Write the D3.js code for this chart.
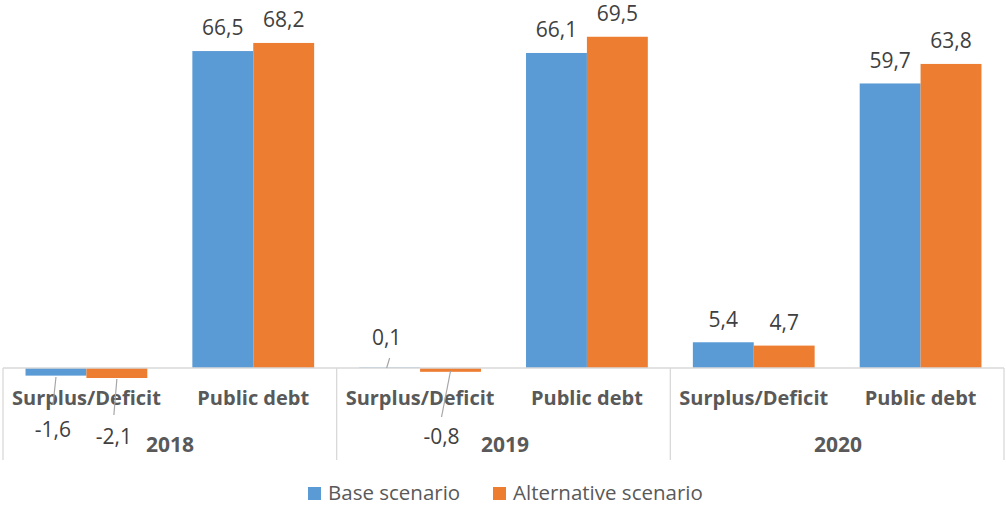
<!DOCTYPE html>
<html>
<head>
<meta charset="utf-8">
<script src="https://cdn.jsdelivr.net/npm/d3@7"></script>
<style>
  body { margin: 0; background: #fff; }
  svg { font-family: "Open Sans", "Noto Sans", sans-serif; }
</style>
</head>
<body>
<svg id="chart" width="1006" height="506"></svg>
<script>
const years = ["2018", "2019", "2020"];
const indicators = ["Surplus/Deficit", "Public debt"];
const seriesNames = ["Base scenario", "Alternative scenario"];
// values per year: [surplus, debt]
const baseValues = [-1.6, 66.5, 0.1, 66.1, 5.4, 59.7];
const altValues = [-2.1, 68.2, -0.8, 69.5, 4.7, 63.8];

const colors = ["#5B9BD5", "#ED7D31"];

const svg = d3.select("#chart");
const left = 3, right = 1004, zeroY = 368;

// build rows
const cats = [];
years.forEach(y => indicators.forEach(ind => cats.push(y + "|" + ind)));
const rows = cats.map((c, i) => ({ key: c, year: c.split("|")[0], ind: c.split("|")[1], vals: [baseValues[i], altValues[i]] }));

const x0 = d3.scaleBand().domain(cats).range([left, right]).padding(0);
const bw = x0.bandwidth();
const x1 = d3.scaleBand().domain(seriesNames).range([bw * 0.135, bw * 0.865]).padding(0);
const y = d3.scaleLinear().domain([0, 70]).range([zeroY, zeroY - 70 * 4.766]);

// bars
const g = svg.append("g");
rows.forEach(r => {
  r.vals.forEach((v, si) => {
    g.append("rect")
      .attr("x", x0(r.key) + x1(seriesNames[si]))
      .attr("y", Math.min(y(v), y(0)))
      .attr("width", x1.bandwidth())
      .attr("height", Math.abs(y(v) - y(0)))
      .attr("fill", colors[si]);
  });
});

// axis line + group separators
svg.append("line").attr("x1", left).attr("x2", right).attr("y1", zeroY).attr("y2", zeroY)
  .attr("stroke", "#D9D9D9").attr("stroke-width", 1.3);
const yearBand = d3.scaleBand().domain(years).range([left, right]).padding(0);
[left, ...years.map(yr => yearBand(yr) + yearBand.bandwidth())].forEach(xx => {
  svg.append("line").attr("x1", xx).attr("x2", xx).attr("y1", zeroY).attr("y2", 460)
    .attr("stroke", "#D9D9D9").attr("stroke-width", 1.3);
});

// category labels
rows.forEach(r => {
  svg.append("text").attr("x", x0(r.key) + bw / 2).attr("y", 398).attr("dy", "0.35em")
    .attr("text-anchor", "middle").attr("font-size", 20).attr("font-weight", "bold")
    .attr("fill", "#595959").text(r.ind);
});
// year labels (Excel nudges the first two right of their data labels)
const yearLabelX = { "2018": 170, "2019": 505, "2020": 838 };
years.forEach(yr => {
  svg.append("text").attr("x", yearLabelX[yr]).attr("y", 445).attr("dy", "0.35em")
    .attr("text-anchor", "middle").attr("font-size", 21).attr("font-weight", "bold")
    .attr("fill", "#595959").text(yr);
});

// data labels; small surplus values get moved labels with leader lines
const moved = {
  "2018|0": { dx: -3, ly: 430, l1: 377, l2: 405 },
  "2018|1": { dx: -3, ly: 437, l1: 379, l2: 415 },
  "2019|0": { dx: -3, ly: 338, l1: 358, l2: 368 },
  "2019|1": { dx: -9, ly: 437, l1: 371, l2: 417 }
};
const fmt = v => d3.format(".1f")(v).replace(".", ",").replace("−", "-");
rows.forEach(r => {
  r.vals.forEach((v, si) => {
    const cx = x0(r.key) + x1(seriesNames[si]) + x1.bandwidth() / 2;
    const m = r.ind === "Surplus/Deficit" ? moved[r.year + "|" + si] : null;
    if (m) {
      svg.append("line").attr("x1", cx).attr("x2", cx + m.dx).attr("y1", m.l1).attr("y2", m.l2)
        .attr("stroke", "#A6A6A6").attr("stroke-width", 1.2);
      svg.append("text").attr("x", cx + m.dx).attr("y", m.ly).attr("dy", "0.35em")
        .attr("text-anchor", "middle").attr("font-size", 21).attr("fill", "#404040").text(fmt(v));
    } else {
      svg.append("text").attr("x", cx).attr("y", y(v) - 23).attr("dy", "0.35em")
        .attr("text-anchor", "middle").attr("font-size", 21).attr("fill", "#404040").text(fmt(v));
    }
  });
});

// legend
const legendPos = [308, 493];
seriesNames.forEach((s, i) => {
  svg.append("rect").attr("x", legendPos[i]).attr("y", 487).attr("width", 13).attr("height", 13).attr("fill", colors[i]);
  svg.append("text").attr("x", legendPos[i] + 20).attr("y", 493).attr("dy", "0.35em").attr("font-size", 20.5)
    .attr("fill", "#595959").text(s);
});
</script>
</body>
</html>
